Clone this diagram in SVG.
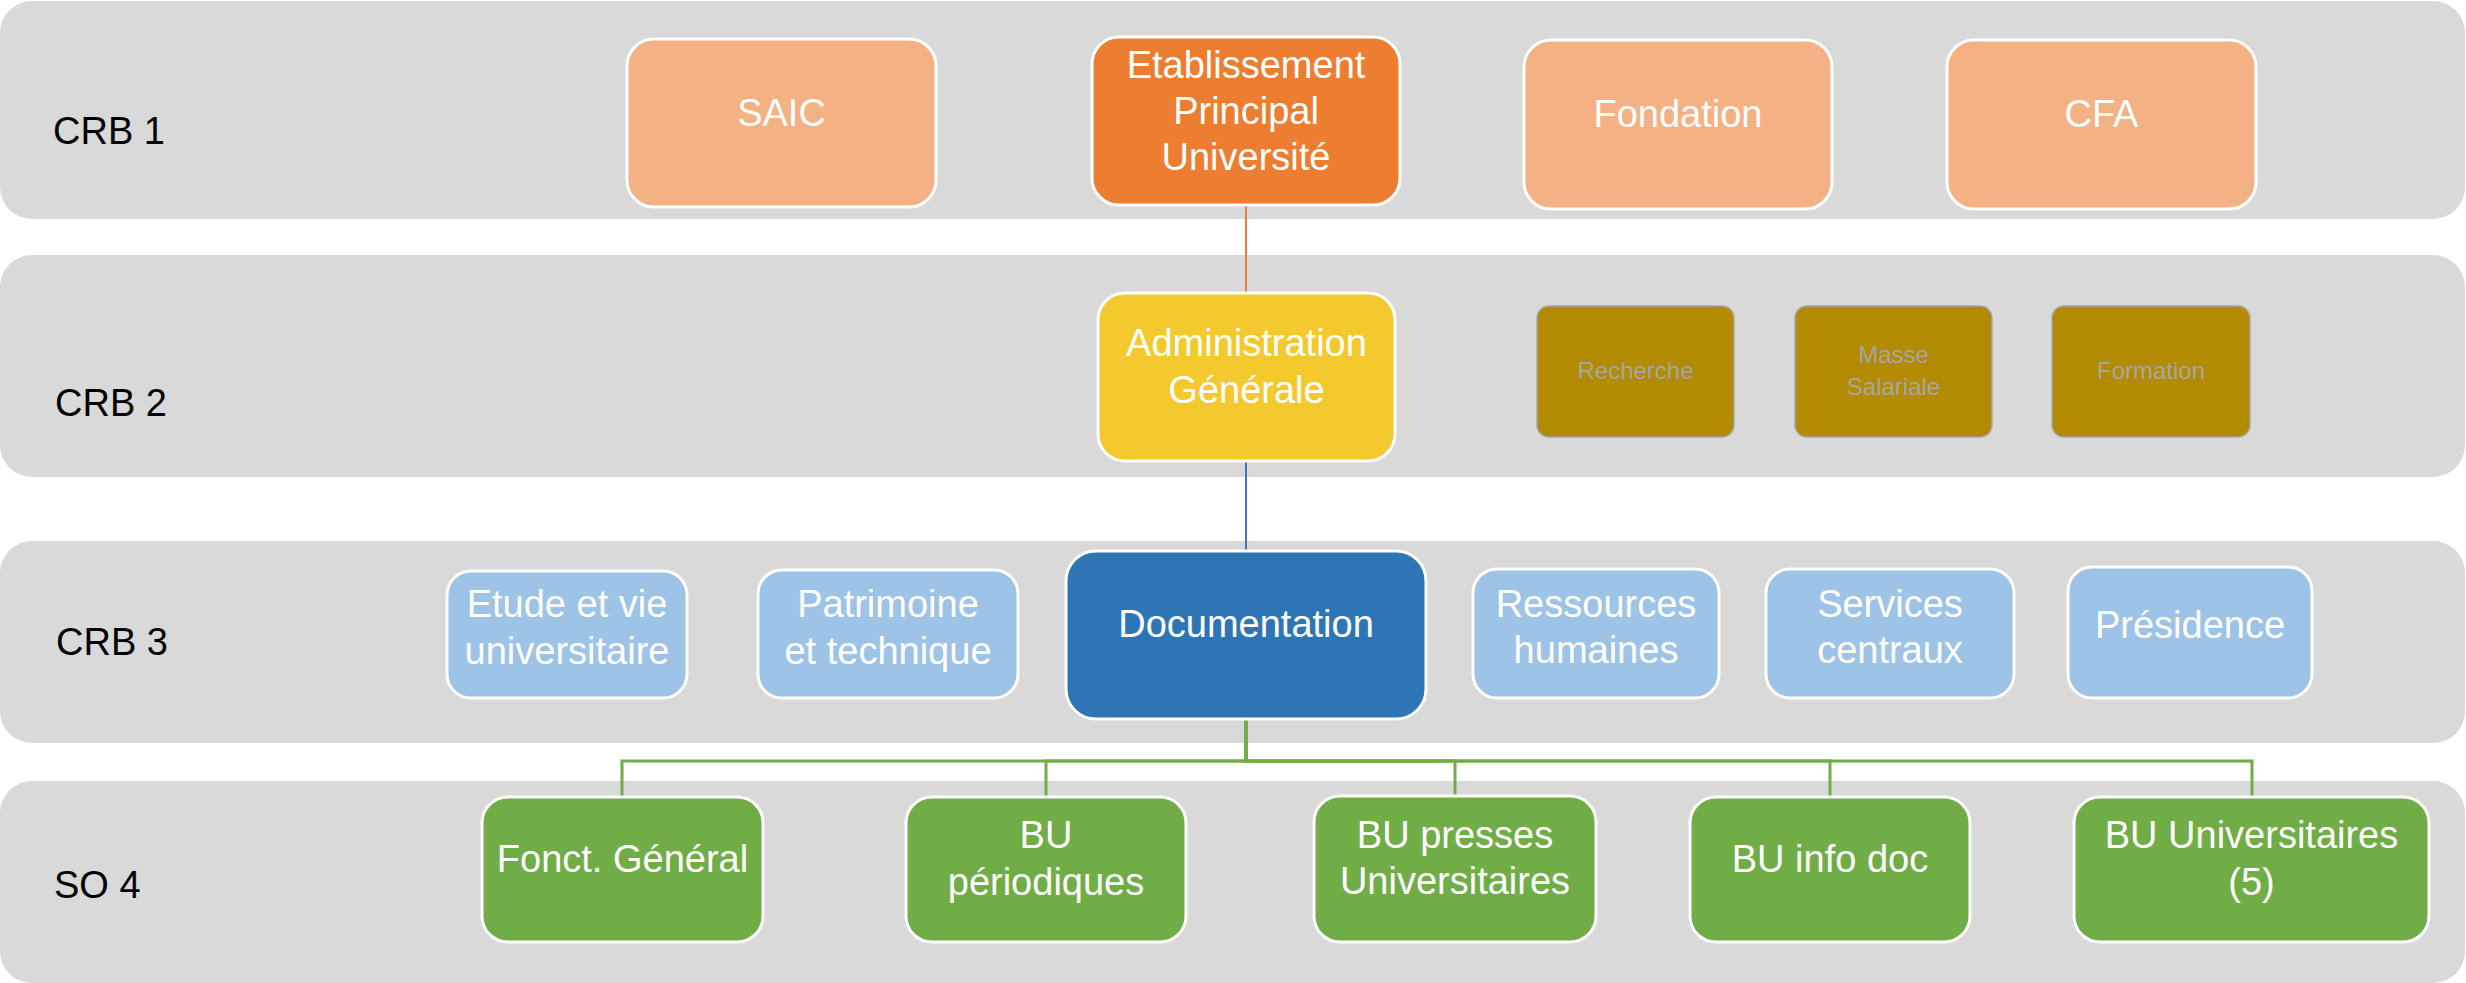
<svg xmlns="http://www.w3.org/2000/svg" width="2466" height="983" viewBox="0 0 2466 983">
<style>
.band{fill:#D9D9D9}
.lbl{font-family:"Liberation Sans",Arial,sans-serif;font-size:38px;fill:#000}
.n rect{stroke:#FFFFFF;stroke-width:3}
.n text{font-family:"Liberation Sans",Arial,sans-serif;font-size:38px;fill:#FFFFFF;text-anchor:middle}
.lo rect{fill:#F4B183}
.or rect{fill:#ED7D31}
.go rect{fill:#F4C92D}
.dg rect{fill:#B28B00;stroke:#A8A8A8;stroke-width:1.5}
.dg text{font-size:24px;fill:#A6A6A6}
.lb rect{fill:#9DC3E6}
.bl rect{fill:#2E75B6}
.gr rect{fill:#70AD47}
.c{fill:none}
</style>
<g id="bands">
<rect class="band" x="0" y="1" width="2465" height="218" rx="32"/>
<rect class="band" x="0" y="255" width="2465" height="222" rx="32"/>
<rect class="band" x="0" y="541" width="2465" height="202" rx="32"/>
<rect class="band" x="0" y="781" width="2465" height="202" rx="32"/>
<text class="lbl" x="53" y="144">CRB 1</text>
<text class="lbl" x="55" y="416">CRB 2</text>
<text class="lbl" x="56" y="655">CRB 3</text>
<text class="lbl" x="54" y="898">SO 4</text>
</g>
<g id="connectors" class="c">
<path d="M1246 205 V293" stroke="#ED7D31" stroke-width="2"/>
<path d="M1246 461 V551" stroke="#4472C4" stroke-width="2"/>
<g stroke="#70AD47" stroke-width="3">
<path d="M1246 719 V761 H622 V797"/>
<path d="M1246 719 V761 H1046 V797"/>
<path d="M1246 719 V761 H1455 V797"/>
<path d="M1246 719 V761 H1830 V797"/>
<path d="M1246 719 V761 H2252 V797"/>
</g>
</g>
<g id="saic" class="n lo"><rect x="627" y="39" width="309" height="168" rx="27"/><text x="781.5" y="126">SAIC</text></g>
<g id="etablissement" class="n or"><rect x="1092" y="37" width="308" height="168" rx="27"/><text x="1246" y="78">Etablissement</text><text x="1246" y="124">Principal</text><text x="1246" y="170">Université</text></g>
<g id="fondation" class="n lo"><rect x="1524" y="40" width="308" height="169" rx="27"/><text x="1678" y="127">Fondation</text></g>
<g id="cfa" class="n lo"><rect x="1947" y="40" width="309" height="169" rx="27"/><text x="2101.5" y="127">CFA</text></g>
<g id="administration" class="n go"><rect x="1098" y="293" width="297" height="168" rx="27"/><text x="1246.5" y="356">Administration</text><text x="1246.5" y="403">Générale</text></g>
<g id="recherche" class="n dg"><rect x="1537" y="306" width="197" height="131" rx="12"/><text x="1635.5" y="379">Recherche</text></g>
<g id="masse" class="n dg"><rect x="1795" y="306" width="197" height="131" rx="12"/><text x="1893.5" y="363">Masse</text><text x="1893.5" y="395">Salariale</text></g>
<g id="formation" class="n dg"><rect x="2052" y="306" width="198" height="131" rx="12"/><text x="2151" y="379">Formation</text></g>
<g id="etude" class="n lb"><rect x="447" y="571" width="240" height="127" rx="24"/><text x="567" y="617">Etude et vie</text><text x="567" y="664">universitaire</text></g>
<g id="patrimoine" class="n lb"><rect x="758" y="570" width="260" height="128" rx="24"/><text x="888" y="617">Patrimoine</text><text x="888" y="664">et technique</text></g>
<g id="documentation" class="n bl"><rect x="1066" y="551" width="360" height="168" rx="30"/><text x="1246" y="637">Documentation</text></g>
<g id="ressources" class="n lb"><rect x="1473" y="569" width="246" height="129" rx="24"/><text x="1596" y="617">Ressources</text><text x="1596" y="663">humaines</text></g>
<g id="services" class="n lb"><rect x="1766" y="569" width="248" height="129" rx="24"/><text x="1890" y="617">Services</text><text x="1890" y="663">centraux</text></g>
<g id="presidence" class="n lb"><rect x="2068" y="567" width="244" height="131" rx="24"/><text x="2190" y="638">Présidence</text></g>
<g id="fonct" class="n gr"><rect x="482" y="797" width="281" height="145" rx="26"/><text x="622.5" y="872">Fonct. Général</text></g>
<g id="bu-periodiques" class="n gr"><rect x="906" y="797" width="280" height="145" rx="26"/><text x="1046" y="848">BU</text><text x="1046" y="895">périodiques</text></g>
<g id="bu-presses" class="n gr"><rect x="1314" y="796" width="282" height="146" rx="26"/><text x="1455" y="848">BU presses</text><text x="1455" y="894">Universitaires</text></g>
<g id="bu-info" class="n gr"><rect x="1690" y="797" width="280" height="145" rx="26"/><text x="1830" y="872">BU info doc</text></g>
<g id="bu-universitaires" class="n gr"><rect x="2074" y="797" width="355" height="145" rx="26"/><text x="2251.5" y="848">BU Universitaires</text><text x="2251.5" y="895">(5)</text></g>
</svg>
